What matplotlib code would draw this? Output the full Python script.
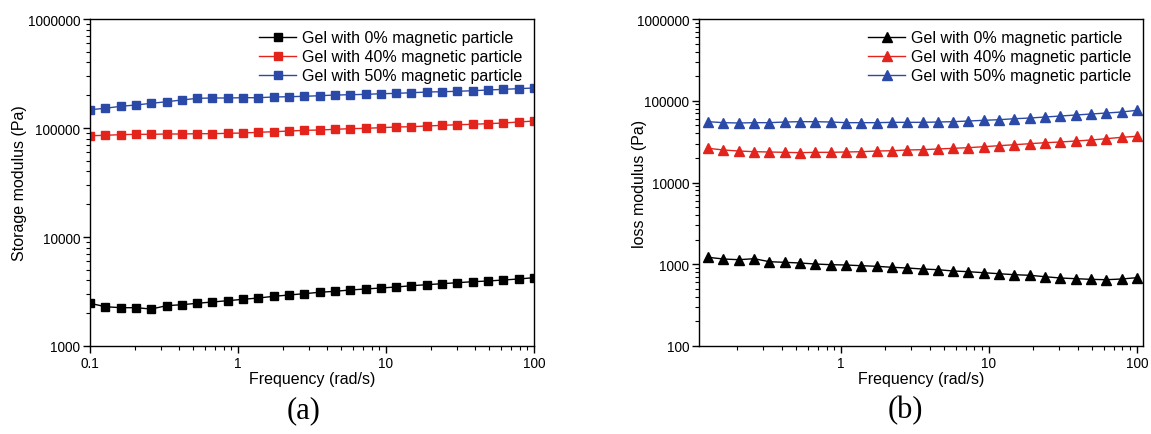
import matplotlib
matplotlib.use("Agg")
import matplotlib.pyplot as plt
from matplotlib.ticker import LogLocator, FuncFormatter, NullFormatter
import numpy as np

plt.rcParams['font.family'] = ['Liberation Sans', 'DejaVu Sans']

# frequency sweep, rad/s
freq = np.logspace(-1, 2, 30)
freq_loss = freq[1:]

labels = ["Gel with 0% magnetic particle",
          "Gel with 40% magnetic particle",
          "Gel with 50% magnetic particle"]
colors = ["#000000", "#e3241c", "#2b4aa8"]

# storage modulus (Pa)
g1_0 = [2465, 2294, 2246, 2246, 2184, 2343, 2393, 2465, 2534, 2605,
        2682, 2756, 2857, 2937, 3020, 3110, 3176, 3265, 3334, 3405,
        3477, 3575, 3651, 3730, 3808, 3890, 3947, 4033, 4117, 4235]
g1_40 = [84960, 85700, 86900, 87500, 87500, 88100, 88100, 88700, 88700, 89400,
         90000, 91300, 92500, 93800, 95200, 95800, 97300, 98600, 99300, 100700,
         102100, 102800, 104300, 105800, 107200, 108100, 109600, 111100, 113500, 115900]
g1_50 = [147200, 151700, 158200, 162600, 168500, 174200, 180700, 187200, 188500, 188500,
         189700, 189700, 192500, 193700, 195400, 197800, 200700, 202000, 203600, 206300,
         208000, 210700, 213800, 215300, 217100, 219900, 223200, 226300, 229500, 232900]

# loss modulus (Pa)
g2_0 = [1216, 1159, 1137, 1169, 1075, 1056, 1036, 1007, 988, 979,
        960, 944, 918, 900, 875, 858, 827, 811, 788, 766,
        745, 733, 704, 679, 666, 654, 647, 660, 685]
g2_40 = [26200, 24990, 24270, 23820, 23610, 23400, 23170, 23400, 23400, 23610,
         23820, 24270, 24480, 24990, 25190, 25700, 26200, 26660, 27420, 28200,
         28990, 29830, 30680, 31280, 32170, 33090, 34340, 35700, 36730]
g2_50 = [55460, 53950, 53460, 53950, 53950, 54950, 55460, 55460, 54950, 53950,
         53950, 53950, 54450, 54450, 54450, 54950, 55460, 56510, 57640, 58650,
         60300, 61480, 63240, 65050, 66900, 68820, 70790, 72820, 76370]


def style_axis(ax):
    ax.set_xscale('log')
    ax.set_yscale('log')
    ax.xaxis.set_major_locator(LogLocator(base=10))
    ax.xaxis.set_minor_locator(LogLocator(base=10, subs=np.arange(2, 10)))
    ax.yaxis.set_major_locator(LogLocator(base=10))
    ax.yaxis.set_minor_locator(LogLocator(base=10, subs=np.arange(2, 10)))
    fmt = FuncFormatter(lambda v, p: ('%g' % v) if v < 1 else '%d' % int(round(v)))
    ax.xaxis.set_major_formatter(fmt)
    ax.yaxis.set_major_formatter(fmt)
    ax.xaxis.set_minor_formatter(NullFormatter())
    ax.yaxis.set_minor_formatter(NullFormatter())
    ax.tick_params(which='major', direction='out', length=5, width=1, labelsize=9.8,
                   top=False, right=False, pad=2)
    ax.tick_params(which='minor', direction='out', length=3, width=0.8,
                   top=False, right=False)
    for s in ax.spines.values():
        s.set_linewidth(1)
    ax.set_xlabel("Frequency (rad/s)", fontsize=11.5, labelpad=1)
    ax.legend(loc='upper right', frameon=False, fontsize=11.5, handlelength=2.3,
              handletextpad=0.4, labelspacing=0.25, borderaxespad=0.3)


fig = plt.figure(figsize=(11.51, 4.35), dpi=100)

ax1 = fig.add_axes([0.0782, 0.2023, 0.3857, 0.7517])
for ys, c, lab in zip([g1_0, g1_40, g1_50], colors, labels):
    ax1.plot(freq, ys, color=c, marker='s', markersize=6.3, linewidth=1, label=lab)
ax1.set_xlim(0.1, 100)
ax1.set_ylim(1000, 1000000)
ax1.set_ylabel("Storage modulus (Pa)", fontsize=11.5)
style_axis(ax1)
ax1.yaxis.set_label_coords(-0.142, 0.5)

ax2 = fig.add_axes([0.6073, 0.2023, 0.3857, 0.7517])
for ys, c, lab in zip([g2_0, g2_40, g2_50], colors, labels):
    ax2.plot(freq_loss, ys, color=c, marker='^', markersize=7.3, linewidth=1, label=lab)
ax2.set_xlim(0.11, 110)
ax2.set_ylim(100, 1000000)
ax2.set_ylabel("loss modulus (Pa)", fontsize=11.5)
style_axis(ax2)
ax2.yaxis.set_label_coords(-0.117, 0.5)

fig.text(0.2635, 0.055, "(a)", fontsize=22, family='Liberation Serif', ha='center', va='center')
fig.text(0.7865, 0.055, "(b)", fontsize=22, family='Liberation Serif', ha='center', va='center')

fig.savefig("out.png", dpi=100)
